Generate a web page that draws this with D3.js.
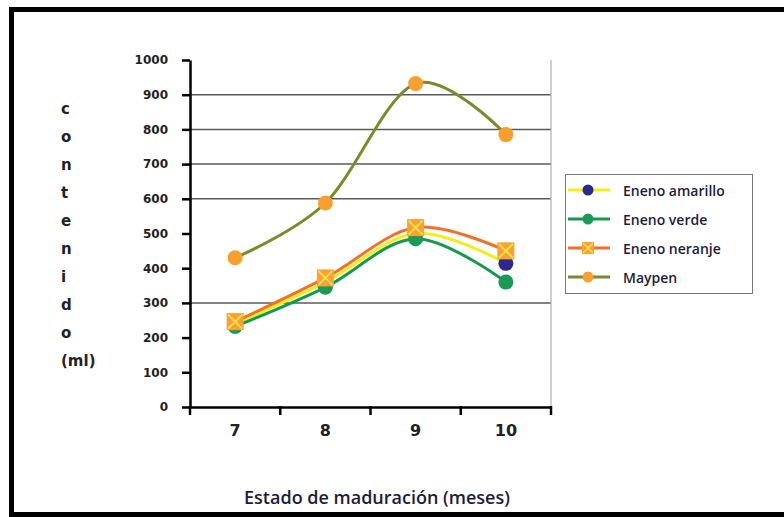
<!DOCTYPE html>
<html>
<head>
<meta charset="utf-8">
<script src="https://cdn.jsdelivr.net/npm/d3@7"></script>
<style>
  body { margin: 0; background: #fff; }
  svg { display: block; }
</style>
</head>
<body>
<svg id="chart" width="784" height="517"></svg>
<script>
// chart data
const months = ["7", "8", "9", "10"];
const amarillo = [240, 360, 500, 414];
const verde = [232, 345, 485, 360];
const naranja = [246, 372, 517, 450];
const maypen = [430, 588, 932, 785];
const yTicks = [0, 100, 200, 300, 400, 500, 600, 700, 800, 900, 1000];
const gridValues = [300, 600, 700, 800, 900];
const yTitle = ["c", "o", "n", "t", "e", "n", "i", "d", "o", "(ml)"];

const series = [
    { name: "Eneno amarillo", values: amarillo, line: "#f2ee1a", fill: "#2b2a8a", shape: "circle" },
    { name: "Eneno verde", values: verde, line: "#14994e", fill: "#1c9a55", shape: "circle" },
    { name: "Eneno neranje", values: naranja, line: "#f2712a", fill: "#f7a236", shape: "square" },
    { name: "Maypen", values: maypen, line: "#7a8a2c", fill: "#f7a030", shape: "circle" }
];

const svg = d3.select("#chart");
const plotLeft = 190, plotRight = 551, plotTop = 60, plotBottom = 407;

const x = d3.scaleBand().domain(months).range([plotLeft, plotRight]);
const y = d3.scaleLinear().domain([0, 1000]).range([plotBottom, plotTop]);

// outer frame
svg.append("rect")
    .attr("x", 11.5).attr("y", 9.5)
    .attr("width", 790).attr("height", 505)
    .attr("fill", "none").attr("stroke", "#000").attr("stroke-width", 5);

// gridlines
svg.append("g").selectAll("line").data(gridValues).join("line")
    .attr("x1", plotLeft).attr("x2", plotRight)
    .attr("y1", d => y(d)).attr("y2", d => y(d))
    .attr("stroke", "#5a5a5a").attr("stroke-width", 1.5);

// right border of plot area
svg.append("line")
    .attr("x1", plotRight).attr("x2", plotRight).attr("y1", plotTop).attr("y2", plotBottom)
    .attr("stroke", "#b0b0b0").attr("stroke-width", 1.2);

// y axis
const yAxis = svg.append("g")
    .attr("transform", `translate(${plotLeft},0)`)
    .call(d3.axisLeft(y).tickValues(yTicks).tickFormat(d3.format("d"))
        .tickSize(8).tickPadding(14).tickSizeOuter(0));
yAxis.select(".domain").attr("stroke", "#000").attr("stroke-width", 2.5);
yAxis.selectAll(".tick line").attr("stroke", "#000").attr("stroke-width", 2.5);
yAxis.selectAll(".tick text")
    .attr("font-family", "DejaVu Sans").attr("font-weight", "bold")
    .attr("font-size", 12).attr("fill", "#222");

// x axis
const xAxis = svg.append("g")
    .attr("transform", `translate(0,${plotBottom})`)
    .call(d3.axisBottom(x).tickSize(0).tickPadding(18).tickSizeOuter(0));
xAxis.select(".domain").attr("stroke", "#000").attr("stroke-width", 2.5);
xAxis.selectAll(".tick text")
    .attr("font-family", "DejaVu Sans").attr("font-weight", "bold")
    .attr("font-size", 16).attr("fill", "#222");
// tick marks sit on the band boundaries
xAxis.append("g").selectAll("line")
    .data(d3.range(months.length + 1)).join("line")
    .attr("x1", i => plotLeft + i * x.step()).attr("x2", i => plotLeft + i * x.step())
    .attr("y1", -1).attr("y2", 8)
    .attr("stroke", "#000").attr("stroke-width", 2.5);

// axis titles
svg.append("text")
    .attr("x", 377).attr("y", 497)
    .attr("text-anchor", "middle").attr("dominant-baseline", "central")
    .attr("font-family", "Open Sans").attr("font-weight", 600)
    .attr("font-size", 18).attr("fill", "#1d1d3a")
    .text("Estado de maduración (meses)");

svg.append("g").selectAll("text").data(yTitle).join("text")
    .attr("x", 61).attr("y", (d, i) => 109 + i * 28)
    .attr("dominant-baseline", "central")
    .attr("font-family", "DejaVu Sans").attr("font-weight", "bold")
    .attr("font-size", 15).attr("fill", "#222")
    .text(d => d);

// series
const line = d3.line()
    .x((d, i) => x(months[i]) + x.bandwidth() / 2)
    .y(d => y(d))
    .curve(d3.curveCardinal.tension(0));

function drawMarker(g, s, cx, cy) {
    if (s.shape === "square") {
        g.append("rect")
            .attr("x", cx - 8.5).attr("y", cy - 8.5)
            .attr("width", 17).attr("height", 17)
            .attr("fill", s.fill);
        g.append("path")
            .attr("d", `M${cx - 7},${cy - 7}L${cx + 7},${cy + 7}M${cx + 7},${cy - 7}L${cx - 7},${cy + 7}`)
            .attr("stroke", "#f8e04a").attr("stroke-width", 2);
    } else {
        g.append("circle")
            .attr("cx", cx).attr("cy", cy).attr("r", 7.5)
            .attr("fill", s.fill);
    }
}

series.forEach(s => {
    const g = svg.append("g");
    g.append("path")
        .datum(s.values)
        .attr("d", line)
        .attr("fill", "none")
        .attr("stroke", s.line)
        .attr("stroke-width", 3);
    s.values.forEach((v, i) => {
        drawMarker(g, s, x(months[i]) + x.bandwidth() / 2, y(v));
    });
});

// legend
const legend = svg.append("g");
legend.append("rect")
    .attr("x", 565.5).attr("y", 174.5)
    .attr("width", 187).attr("height", 119)
    .attr("fill", "#fff").attr("stroke", "#777").attr("stroke-width", 1);

series.forEach((s, i) => {
    const ly = 190 + i * 29;
    const g = legend.append("g");
    g.append("line")
        .attr("x1", 568).attr("x2", 610).attr("y1", ly).attr("y2", ly)
        .attr("stroke", s.line).attr("stroke-width", 3);
    if (s.shape === "square") {
        g.append("rect")
            .attr("x", 582).attr("y", ly - 6).attr("width", 12).attr("height", 12)
            .attr("fill", s.fill);
        g.append("path")
            .attr("d", `M583,${ly - 5}L593,${ly + 5}M593,${ly - 5}L583,${ly + 5}`)
            .attr("stroke", "#f8e04a").attr("stroke-width", 1.5);
    } else {
        g.append("circle")
            .attr("cx", 588).attr("cy", ly).attr("r", 5.5)
            .attr("fill", s.fill);
    }
    g.append("text")
        .attr("x", 623).attr("y", ly)
        .attr("dominant-baseline", "central")
        .attr("font-family", "Open Sans").attr("font-weight", 600)
        .attr("font-size", 14).attr("fill", "#1d1d3a")
        .text(s.name);
});
</script>
</body>
</html>
